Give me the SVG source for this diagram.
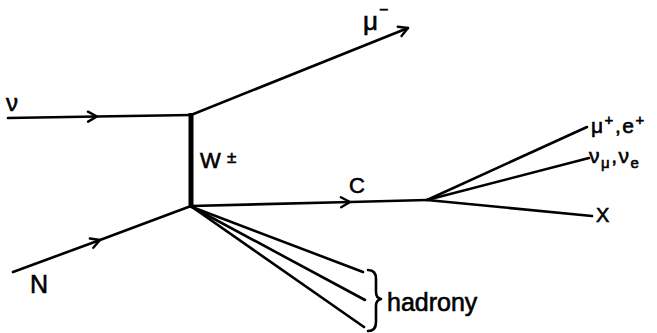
<svg xmlns="http://www.w3.org/2000/svg" width="657" height="333" viewBox="0 0 657 333">
<style>
  .ln { stroke: #000; stroke-width: 2.6; fill: none; stroke-linecap: round; stroke-linejoin: round; }
  .w { stroke: #000; stroke-width: 5; fill: none; }
  .t { font-family: "Liberation Sans", Arial, sans-serif; fill: #000; stroke: #000; stroke-width: 0.6; }
</style>
<defs>
  <marker id="chev" markerUnits="userSpaceOnUse" markerWidth="20" markerHeight="20" viewBox="-12 -10 16 20" refX="0" refY="0" orient="auto" overflow="visible">
    <path d="M-9,-5 L0,0 L-9,5" fill="none" stroke="#000" stroke-width="2.4" stroke-linecap="round" stroke-linejoin="round"/>
  </marker>
</defs>
<rect width="657" height="333" fill="#fff"/>
<g id="connectors">
  <path class="ln" d="M8,118 L97,116.5 L191,115" marker-mid="url(#chev)"/>
  <path class="ln" d="M13,272 L100,240 L191,206" marker-mid="url(#chev)"/>
  <path class="w" d="M191,113 L191,208"/>
  <path class="ln" d="M191,115 L408,28" marker-end="url(#chev)"/>
  <path class="ln" d="M191,206 L350,202 L427,200" marker-mid="url(#chev)"/>
  <path class="ln" d="M427,200 L587,127"/>
  <path class="ln" d="M427,200 L589,158"/>
  <path class="ln" d="M427,200 L592,216"/>
  <path class="ln" d="M192,207 L363,272"/>
  <path class="ln" d="M192,207 L365,300"/>
  <path class="ln" d="M192,207 L364,327"/>
  <path class="ln" d="M368,270 Q376,270 376,279 L376,292 Q376,298 381,299 Q376,300 376,306 L376,322 Q376,331 368,331"/>
</g>
<g id="nu"><text class="t" x="6" y="111" font-size="24">ν</text></g>
<g id="N"><text class="t" x="30" y="293" font-size="25">N</text></g>
<g id="W"><text class="t" x="200" y="168" font-size="22">W</text><text class="t" x="227" y="163" font-size="17">±</text></g>
<g id="muminus"><text class="t" x="363" y="30" font-size="26">μ<tspan font-size="16" dx="1" dy="-15">−</tspan></text></g>
<g id="C"><text class="t" x="349" y="193" font-size="22">C</text></g>
<g id="muplus"><text class="t" x="591" y="133" font-size="21" letter-spacing="1.5">μ<tspan font-size="15" dy="-8">+</tspan><tspan dy="8">,e</tspan><tspan font-size="15" dy="-8">+</tspan></text></g>
<g id="nus"><text class="t" x="589" y="163" font-size="21" letter-spacing="1.5">ν<tspan font-size="15" dy="5">μ</tspan><tspan dy="-5">,ν</tspan><tspan font-size="15" dy="5">e</tspan></text></g>
<g id="X"><text class="t" x="596" y="222" font-size="20">X</text></g>
<g id="hadrony"><text class="t" x="387" y="311" font-size="25">hadrony</text></g>
</svg>
